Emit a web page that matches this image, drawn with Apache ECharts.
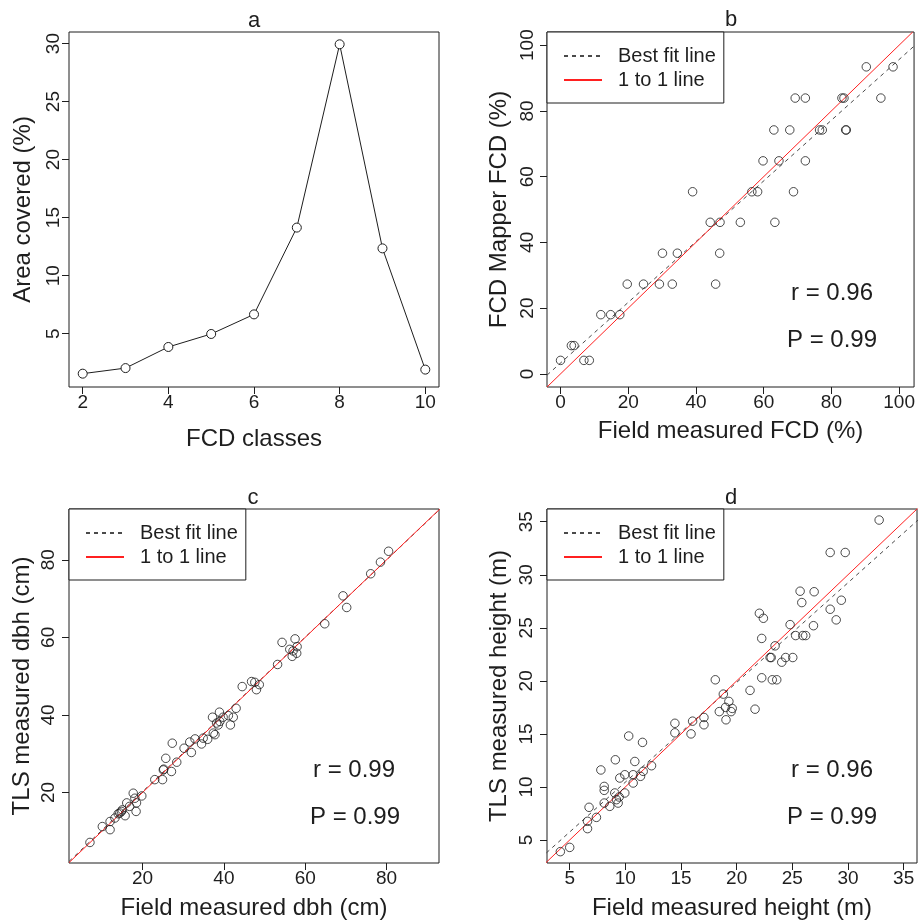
<!DOCTYPE html>
<html>
<head>
<meta charset="utf-8">
<script src="https://cdn.jsdelivr.net/npm/echarts@6/dist/echarts.min.js"></script>
<style>
html,body{margin:0;padding:0;background:#fff;}
#chart{width:918px;height:923px;}
</style>
</head>
<body>
<div id="chart"></div>
<script>
// ---------- Panel a ----------
const aClasses = [2, 3, 4, 5, 6, 7, 8, 9, 10];
const aArea = [1.55, 2.03, 3.85, 4.97, 6.66, 14.14, 29.94, 12.35, 1.9];
const aXTicks = [2, 4, 6, 8, 10];
const aYTicks = [5, 10, 15, 20, 25, 30];

// ---------- Panel b ----------
const bField = [0, 3.2, 4.0, 6.9, 8.5, 11.9, 14.8, 17.5, 19.7, 24.5, 29.2, 33.0, 45.8, 30.1, 34.5, 47.0,
  44.2, 47.1, 53.1, 63.3, 39.0, 56.5, 58.2, 68.8, 59.8, 64.5, 72.3, 63.0, 67.7, 76.5, 77.3, 84.2, 84.4,
  69.3, 72.3, 83.1, 83.7, 94.6, 90.3, 98.2];
const bMapper = [4.1, 8.6, 8.6, 4.1, 4.1, 18.0, 18.0, 18.0, 27.3, 27.3, 27.3, 27.3, 27.3, 36.7, 36.7, 36.7,
  46.1, 46.1, 46.1, 46.1, 55.4, 55.4, 55.4, 55.4, 64.8, 64.8, 64.8, 74.2, 74.2, 74.2, 74.2, 74.2, 74.2,
  83.9, 83.9, 83.9, 83.9, 83.9, 93.4, 93.4];
const bFitLine = [[-4, -0.4], [104.4, 99.7]];
const bOneLine = [[-4, -4], [104, 104]];
const bXTicks = [0, 20, 40, 60, 80, 100];
const bYTicks = [0, 20, 40, 60, 80, 100];

// ---------- Panel c ----------
const cField = [7.05, 10.1, 12.0, 12.0, 13.2, 14.0, 14.4, 14.8, 15.0, 15.7, 16.1, 16.8, 17.7, 18.1, 18.4, 19.8, 18.5,
  23.0, 24.9, 25.1, 25.2, 25.7, 27.1, 27.3, 28.4, 30.2, 31.6, 32.0, 32.9, 34.5, 34.9, 36.0,
  37.2, 37.4, 37.8, 38.2, 38.6, 38.9, 39.0, 39.8, 41.1, 41.6, 42.3, 43.0, 44.5, 46.8, 47.6, 48.0, 48.7,
  53.2, 54.3, 56.2, 56.8, 57.0, 57.5, 57.9, 58.0, 64.8, 69.3, 70.2, 76.1, 78.5, 80.5];
const cTLS = [7.1, 11.2, 10.4, 12.5, 13.4, 14.5, 14.7, 15.1, 15.5, 14.0, 17.3, 16.4, 19.8, 18.5, 15.1, 19.1, 17.3,
  23.3, 23.3, 25.8, 26.0, 28.8, 25.4, 32.7, 27.8, 31.4, 33.0, 30.3, 33.8, 32.5, 34.0, 33.7,
  39.4, 35.3, 34.9, 37.9, 37.4, 40.7, 38.3, 39.4, 39.8, 37.4, 39.4, 41.7, 47.3, 48.6, 48.4, 46.5, 47.8,
  53.0, 58.7, 56.9, 55.1, 56.5, 59.6, 55.9, 57.6, 63.5, 70.7, 67.7, 76.4, 79.4, 82.2];
const cFitLine = [[1.9, 2.2], [92.9, 92.8]];
const cOneLine = [[1.9, 1.9], [93.1, 93.1]];
const cXTicks = [20, 40, 60, 80];
const cYTicks = [20, 40, 60, 80];

// ---------- Panel d ----------
const dField = [4.16, 5.0, 6.6, 6.6, 6.74, 7.4, 7.8, 8.1, 8.1, 8.1, 8.6, 9.05, 9.1, 9.2, 9.35, 9.44, 9.5,
  9.95, 9.95, 10.3, 10.7, 10.85, 10.7, 11.36, 11.54, 11.6, 12.35, 14.45, 14.45, 15.9, 16.04, 17.06, 17.06,
  18.08, 18.44, 18.8, 19.0, 19.04, 19.3, 19.5, 19.6, 21.2, 21.65, 22.04, 22.4, 22.25, 22.25, 23.0, 23.1,
  23.2, 23.6, 23.45, 24.05, 24.4, 24.8, 25.04, 25.3, 25.7, 25.85, 25.94, 26.2, 26.9, 26.96, 28.4, 28.4,
  28.94, 29.4, 29.75, 32.8];
const dTLS = [3.9, 4.3, 6.07, 6.76, 8.08, 7.13, 11.6, 10.05, 9.68, 8.48, 8.17, 9.43, 12.56, 8.8, 8.48, 9.05, 10.84,
  11.15, 9.43, 14.8, 10.37, 12.4, 11.15, 11.0, 14.2, 11.47, 12.0, 16.0, 15.1, 15.0, 16.2, 16.55, 15.86,
  20.1, 17.1, 18.75, 17.5, 16.33, 18.06, 17.1, 17.4, 19.1, 17.33, 26.37, 25.9, 24.0, 20.29, 22.2, 22.2,
  20.1, 20.1, 23.3, 21.76, 22.2, 25.3, 22.2, 24.27, 28.45, 27.38, 24.27, 24.27, 25.2, 28.4, 26.75, 32.1,
  25.75, 27.6, 32.1, 35.16];
const dFitLine = [[2.9, 3.78], [36.3, 35.17]];
const dOneLine = [[2.8, 2.8], [36.3, 36.3]];
const dXTicks = [5, 10, 15, 20, 25, 30, 35];
const dYTicks = [5, 10, 15, 20, 25, 30, 35];

const statsText = {b: ['r = 0.96', 'P = 0.99'], c: ['r = 0.99', 'P = 0.99'], d: ['r = 0.96', 'P = 0.99']};
const legendNames = ['Best fit line', '1 to 1 line'];

// ---------- build ----------
const FONT = '"Liberation Sans", Arial, sans-serif';
const INK = '#1e1e1e';
const RED = '#ff2020';
const FITC = '#4a4a4a';
const zip = (xs, ys) => xs.map((x, i) => [x, ys[i]]);

function xAxis(gi, min, max, ticks, name, nameGap) {
  return {
    type: 'value', gridIndex: gi, min, max, name, nameLocation: 'middle', nameGap, position: 'bottom',
    nameTextStyle: {fontFamily: FONT, fontSize: 24, color: INK},
    axisLine: {show: false, onZero: false},
    axisTick: {show: true, inside: false, length: 7, lineStyle: {color: INK, width: 1}, customValues: ticks},
    axisLabel: {show: true, margin: 6, fontFamily: FONT, fontSize: 19, color: INK, customValues: ticks},
    splitLine: {show: false}
  };
}
function yAxis(gi, min, max, ticks, name, nameGap, margin) {
  return {
    type: 'value', gridIndex: gi, min, max, name, nameLocation: 'middle', nameGap, position: 'left',
    nameTextStyle: {fontFamily: FONT, fontSize: 24, color: INK},
    axisLine: {show: false, onZero: false},
    axisTick: {show: true, inside: false, length: 7, lineStyle: {color: INK, width: 1}, customValues: ticks},
    axisLabel: {show: true, rotate: 90, margin, fontFamily: FONT, fontSize: 19, color: INK, customValues: ticks},
    splitLine: {show: false}
  };
}
function scatter(gi, data) {
  return {
    type: 'scatter', xAxisIndex: gi, yAxisIndex: gi, data, symbol: 'circle', symbolSize: 8.5,
    itemStyle: {color: 'rgba(0,0,0,0)', borderColor: INK, borderWidth: 1}, silent: true, z: 3,
    emphasis: {disabled: true}
  };
}
function fitLine(gi, data) {
  return {
    type: 'line', name: legendNames[0], xAxisIndex: gi, yAxisIndex: gi, data, symbol: 'none', clip: true,
    color: FITC, lineStyle: {color: FITC, width: 1, type: [4, 4]}, silent: true, z: 2,
    emphasis: {disabled: true}
  };
}
function oneLine(gi, data) {
  return {
    type: 'line', name: legendNames[1], xAxisIndex: gi, yAxisIndex: gi, data, symbol: 'none', clip: true,
    color: RED, lineStyle: {color: RED, width: 1, type: 'solid'}, silent: true, z: 2,
    emphasis: {disabled: true}
  };
}
function legend(left, top) {
  return {
    data: legendNames, left, top, orient: 'vertical', selectedMode: false,
    backgroundColor: '#fff', borderColor: INK, borderWidth: 1,
    padding: [14, 8, 13, 16], itemGap: 4, itemWidth: 38, itemHeight: 14,
    itemStyle: {opacity: 0},
    textStyle: {fontFamily: FONT, fontSize: 20, color: INK, padding: [0, 0, 0, 11]},
    z: 5
  };
}
function panelTitle(text, left, top) {
  return {text, left, top, textAlign: 'center', padding: 0,
    textStyle: {fontFamily: FONT, fontSize: 22, fontWeight: 'normal', color: INK}};
}
function statText(text, x, y) {
  return {type: 'text', x, y, z: 10,
    style: {text, fontFamily: FONT, fontSize: 24, fill: INK, align: 'center', verticalAlign: 'middle'}};
}

const option = {
  animation: false,
  backgroundColor: '#fff',
  title: [
    panelTitle('a', 254, 10),
    panelTitle('b', 731, 9),
    panelTitle('c', 253, 487),
    panelTitle('d', 731, 487)
  ],
  grid: [
    {left: 69, top: 32, width: 370, height: 355, show: true, borderColor: INK, borderWidth: 1, backgroundColor: 'transparent'},
    {left: 547, top: 32, width: 370, height: 355, show: true, borderColor: INK, borderWidth: 1, backgroundColor: 'transparent'},
    {left: 69, top: 509, width: 370, height: 354, show: true, borderColor: INK, borderWidth: 1, backgroundColor: 'transparent'},
    {left: 547, top: 509, width: 370, height: 354, show: true, borderColor: INK, borderWidth: 1, backgroundColor: 'transparent'}
  ],
  xAxis: [
    xAxis(0, 1.68, 10.32, aXTicks, 'FCD classes', 40),
    xAxis(1, -4, 104.4, bXTicks, 'Field measured FCD (%)', 32),
    xAxis(2, 1.9, 92.9, cXTicks, 'Field measured dbh (cm)', 33),
    xAxis(3, 2.96, 36.2, dXTicks, 'Field measured height (m)', 33)
  ],
  yAxis: [
    yAxis(0, 0.4, 31.0, aYTicks, 'Area covered (%)', 34, 6),
    yAxis(1, -4, 104, bYTicks, 'FCD Mapper FCD (%)', 36, 10),
    yAxis(2, 1.8, 93.1, cYTicks, 'TLS measured dbh (cm)', 35, 11),
    yAxis(3, 2.83, 36.2, dYTicks, 'TLS measured height (m)', 36, 11)
  ],
  legend: [legend(547, 32), legend(69, 509), legend(547, 509)],
  series: [
    {type: 'line', name: 'Area covered', xAxisIndex: 0, yAxisIndex: 0, data: zip(aClasses, aArea),
      symbol: 'circle', symbolSize: 9, color: INK,
      lineStyle: {color: INK, width: 1}, itemStyle: {color: '#fff', borderColor: INK, borderWidth: 1},
      silent: true, emphasis: {disabled: true}},
    fitLine(1, bFitLine), oneLine(1, bOneLine), scatter(1, zip(bField, bMapper)),
    fitLine(2, cFitLine), oneLine(2, cOneLine), scatter(2, zip(cField, cTLS)),
    fitLine(3, dFitLine), oneLine(3, dOneLine), scatter(3, zip(dField, dTLS))
  ],
  graphic: [
    statText(statsText.b[0], 832, 293), statText(statsText.b[1], 832, 340),
    statText(statsText.c[0], 354, 770), statText(statsText.c[1], 355, 817),
    statText(statsText.d[0], 832, 770), statText(statsText.d[1], 832, 817)
  ]
};

const chart = echarts.init(document.getElementById('chart'), null, {renderer: 'canvas'});
chart.setOption(option);
</script>
</body>
</html>
